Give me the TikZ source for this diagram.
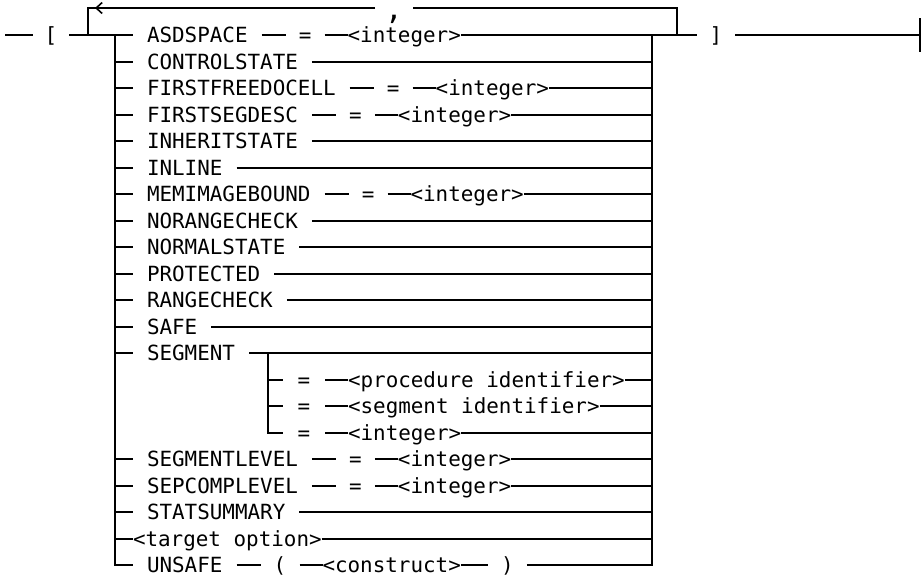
\documentclass[tikz,border=0pt]{standalone}
\usepackage{fontspec}
\newfontfamily\dgfont{DejaVu Sans Mono}
\usetikzlibrary{positioning,arrows.meta}
\begin{document}
\begin{tikzpicture}[x=1pt,y=-1pt,
  ln/.style={line width=1.6pt},
  txt/.style={font=\dgfont\fontsize{20.9pt}{25pt}\selectfont, inner ysep=0pt,
    text height=16pt, text depth=0.6pt, outer sep=0pt},
  kw/.style={txt, inner xsep=14pt},
  nt/.style={txt, inner xsep=0pt},
  sym/.style={txt, inner xsep=0pt, minimum width=39pt},
  sep/.style={txt, inner xsep=0pt, minimum width=38pt, text height=12pt, text depth=0pt, anchor=base}]
\useasboundingbox[fill=white] (0,0) rectangle (923,578);

\foreach \i in {1,...,21}{
  \pgfmathsetmacro\yy{round(35+(\i-1)*26.5)}
  \coordinate (L\i) at (115,\yy);
  \coordinate (R\i) at (652,\yy);
}
\coordinate (S13) at (268,353);
\coordinate (S14) at (268,380);
\coordinate (S15) at (268,406);
\coordinate (S16) at (268,433);

% start, brackets, loop
\coordinate (s0) at (5,35);
\node[sym, minimum width=36pt] (lbk) at (51,35) {[};
\coordinate (cl) at (88,35);
\coordinate (tl) at (88,8);
\coordinate (ta) at (95,8);
\coordinate (cr) at (677,35);
\coordinate (tr) at (677,8);
\node[sep] (cm) at (394,20) {\scalebox{1.4}{,}};
\node[sym, minimum width=38pt] (rbk) at (716,35) {]};
\coordinate (e0) at (920,35);

% rows
\node[kw, right=18pt of L1] (k1) {ASDSPACE};
\node[sym, right=24pt of k1] (e1) {=};
\node[nt, right=23pt of e1] (n1) {<integer>};

\node[kw, right=18pt of L2] (k2) {CONTROLSTATE};

\node[kw, right=18pt of L3] (k3) {FIRSTFREEDOCELL};
\node[sym, right=24pt of k3] (e3) {=};
\node[nt, right=23pt of e3] (n3) {<integer>};

\node[kw, right=18pt of L4] (k4) {FIRSTSEGDESC};
\node[sym, right=24pt of k4] (e4) {=};
\node[nt, right=23pt of e4] (n4) {<integer>};

\node[kw, right=18pt of L5] (k5) {INHERITSTATE};
\node[kw, right=18pt of L6] (k6) {INLINE};

\node[kw, right=18pt of L7] (k7) {MEMIMAGEBOUND};
\node[sym, right=24pt of k7] (e7) {=};
\node[nt, right=23pt of e7] (n7) {<integer>};

\node[kw, right=18pt of L8] (k8) {NORANGECHECK};
\node[kw, right=18pt of L9] (k9) {NORMALSTATE};
\node[kw, right=18pt of L10] (k10) {PROTECTED};
\node[kw, right=18pt of L11] (k11) {RANGECHECK};
\node[kw, right=18pt of L12] (k12) {SAFE};
\node[kw, right=18pt of L13] (k13) {SEGMENT};

\node[sym, minimum width=42pt, right=15pt of S14] (e14) {=};
\node[nt, right=23pt of e14] (n14) {<procedure identifier>};
\node[sym, minimum width=42pt, right=15pt of S15] (e15) {=};
\node[nt, right=23pt of e15] (n15) {<segment identifier>};
\node[sym, minimum width=42pt, right=15pt of S16] (e16) {=};
\node[nt, right=23pt of e16] (n16) {<integer>};

\node[kw, right=18pt of L17] (k17) {SEGMENTLEVEL};
\node[sym, right=24pt of k17] (e17) {=};
\node[nt, right=23pt of e17] (n17) {<integer>};

\node[kw, right=18pt of L18] (k18) {SEPCOMPLEVEL};
\node[sym, right=24pt of k18] (e18) {=};
\node[nt, right=23pt of e18] (n18) {<integer>};

\node[kw, right=18pt of L19] (k19) {STATSUMMARY};
\node[nt, right=18pt of L20] (n20) {<target option>};

\node[kw, right=18pt of L21] (k21) {UNSAFE};
\node[sym, right=24pt of k21] (p21) {(};
\node[nt, right=23pt of p21] (n21) {<construct>};
\node[sym, right=27pt of n21] (q21) {)};

% connectors
\draw[ln] (s0) -- (lbk) -- (cl) -- (L1) -- (k1) -- (e1) -- (n1) -- (R1) -- (cr) -- (rbk) -- (e0);
\draw[ln] ([yshift=-17pt]e0) -- ([yshift=17pt]e0);
\draw[ln] (cr) -- (tr) -- (tr -| cm.east);
\draw[ln] (tl -| cm.west) -- (tl) -- (cl);
\draw[ln, -{Straight Barb[length=6pt,width=11pt]}] ([xshift=12pt]ta) -- (ta);

\draw[ln] (L1) -- (L21) -- (k21) -- (p21) -- (n21) -- (q21) -- (R21) -- (R1);

\draw[ln] (L2) -- (k2) -- (R2);
\draw[ln] (L3) -- (k3) -- (e3) -- (n3) -- (R3);
\draw[ln] (L4) -- (k4) -- (e4) -- (n4) -- (R4);
\draw[ln] (L5) -- (k5) -- (R5);
\draw[ln] (L6) -- (k6) -- (R6);
\draw[ln] (L7) -- (k7) -- (e7) -- (n7) -- (R7);
\draw[ln] (L8) -- (k8) -- (R8);
\draw[ln] (L9) -- (k9) -- (R9);
\draw[ln] (L10) -- (k10) -- (R10);
\draw[ln] (L11) -- (k11) -- (R11);
\draw[ln] (L12) -- (k12) -- (R12);
\draw[ln] (L13) -- (k13) -- (R13);
\draw[ln] (S13) -- (S16) -- (e16) -- (n16) -- (R16);
\draw[ln] (S14) -- (e14) -- (n14) -- (R14);
\draw[ln] (S15) -- (e15) -- (n15) -- (R15);
\draw[ln] (L17) -- (k17) -- (e17) -- (n17) -- (R17);
\draw[ln] (L18) -- (k18) -- (e18) -- (n18) -- (R18);
\draw[ln] (L19) -- (k19) -- (R19);
\draw[ln] (L20) -- (n20) -- (R20);
\end{tikzpicture}
\end{document}
